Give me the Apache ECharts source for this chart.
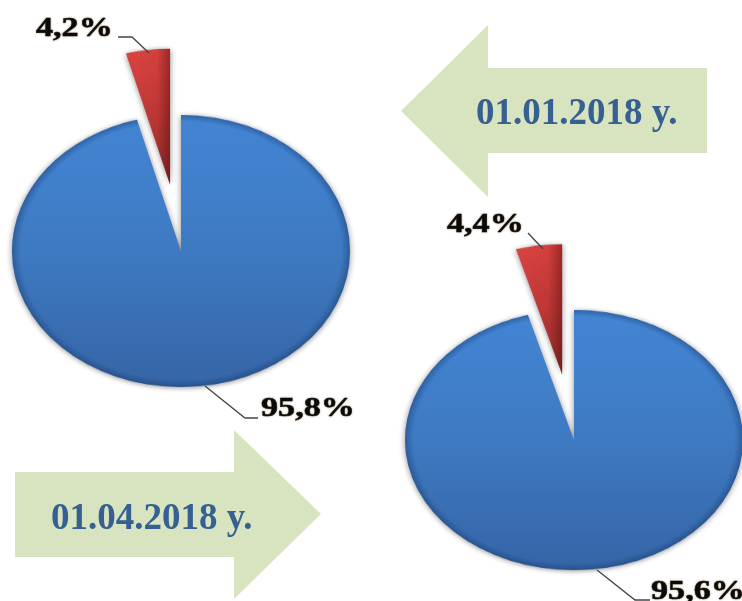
<!DOCTYPE html>
<html>
<head>
<meta charset="utf-8">
<script src="https://cdn.jsdelivr.net/npm/echarts@6/dist/echarts.min.js"></script>
<style>
  html, body { margin: 0; padding: 0; background: #fff; overflow: hidden; width: 742px; height: 601px; }
  .pie { position: absolute; width: 360px; height: 520px; transform-origin: 180px 260px; }
  #main { position: absolute; left: 0; top: 0; width: 742px; height: 601px; pointer-events: none; }
</style>
</head>
<body>
<div id="pieA" class="pie" style="left:1px;top:-9px;transform:scaleY(0.805)"></div>
<div id="pieB" class="pie" style="left:394px;top:180px;transform:scaleY(0.77)"></div>
<div id="main"></div>
<script>
var sliceNames = ['Основна частка', 'Інша частка']
var valuesJan = [95.8, 4.2]
var valuesApr = [95.6, 4.4]
var dateLabels = ['01.01.2018 y.', '01.04.2018 y.']

// відсотки з комою
function pct(v) {
  return v.toFixed(1).replace('.', ',') + '%'
}

function pieData(values) {
  return [
    { name: sliceNames[0], value: values[0], itemStyle: {
      color: { type: 'linear', x: 0, y: 0, x2: 0, y2: 1, colorStops: [
        { offset: 0, color: '#4385d4' }, { offset: 0.5, color: '#3e7ac2' }, { offset: 1, color: '#3565a6' }
      ] }
    } },
    { name: sliceNames[1], value: values[1], selected: true, itemStyle: {
      color: { type: 'linear', x: 0, y: 0, x2: 0, y2: 1, colorStops: [
        { offset: 0, color: '#dc4442' }, { offset: 0.5, color: '#c23a38' }, { offset: 1, color: '#97302d' }
      ] }
    } }
  ]
}

// другий шар: темний край еліпса
function rimData(values) {
  return [
    { name: sliceNames[0], value: values[0], itemStyle: {
      color: { type: 'radial', x: 0.5, y: 0.5, r: 0.5, colorStops: [
        { offset: 0, color: 'rgba(20,50,100,0)' }, { offset: 0.95, color: 'rgba(20,50,100,0)' },
        { offset: 1, color: 'rgba(20,50,100,0.4)' }
      ] }
    } },
    { name: sliceNames[1], value: values[1], selected: true, itemStyle: {
      color: { type: 'linear', x: 0, y: 0, x2: 1, y2: 0, colorStops: [
        { offset: 0, color: 'rgba(60,0,0,0)' }, { offset: 0.7, color: 'rgba(60,0,0,0.05)' },
        { offset: 1, color: 'rgba(60,0,0,0.4)' }
      ] }
    } }
  ]
}

function pieOption(values, offset) {
  var base = {
    type: 'pie',
    center: [180, 260],
    radius: [0, 169],
    startAngle: 90,
    selectedMode: 'single',
    selectedOffset: offset,
    label: { show: false },
    labelLine: { show: false },
    silent: true
  }
  return {
    animation: false,
    series: [
      Object.assign({}, base, {
        data: pieData(values),
        itemStyle: { shadowBlur: 6, shadowColor: 'rgba(0,0,0,0.45)', shadowOffsetY: 1 }
      }),
      Object.assign({}, base, { data: rimData(values) })
    ]
  }
}

echarts.init(document.getElementById('pieA')).setOption(pieOption(valuesJan, 83))
echarts.init(document.getElementById('pieB')).setOption(pieOption(valuesApr, 86))

function arrow(points) {
  return { type: 'polygon', shape: { points: points }, style: { fill: '#d8e4bf' } }
}
function dateText(text, x, y) {
  return { type: 'text', x: x, y: y, style: {
    text: text, fill: '#376092', font: 'bold 37px "Liberation Serif"',
    textAlign: 'left', textVerticalAlign: 'middle'
  } }
}
// підпис трохи розтягнутий по горизонталі, як на картинці
function pctText(text, x, y) {
  return { type: 'text', x: x, y: y, scaleX: 1.22, style: {
    text: text, fill: '#0a0a0a', font: 'bold 28px "Liberation Serif"',
    textAlign: 'left', textVerticalAlign: 'middle',
    stroke: '#0a0a0a', lineWidth: 0.5,
    textShadowColor: 'rgba(120,80,20,0.5)', textShadowBlur: 2
  } }
}
function leader(points) {
  return { type: 'polyline', shape: { points: points }, style: { stroke: '#444', lineWidth: 1.3, fill: null } }
}

echarts.init(document.getElementById('main')).setOption({
  animation: false,
  graphic: [
    arrow([[401, 111], [488, 25], [488, 68], [707, 68], [707, 153], [488, 153], [488, 197]]),
    arrow([[321, 514], [234, 430], [234, 472], [15, 472], [15, 557], [234, 557], [234, 599]]),
    dateText(dateLabels[0], 476, 114),
    dateText(dateLabels[1], 51, 519),
    pctText(pct(valuesJan[1]), 36, 29),
    pctText(pct(valuesJan[0]), 261, 409),
    pctText(pct(valuesApr[1]), 447, 225),
    pctText(pct(valuesApr[0]), 651, 592),
    leader([[118, 37], [132, 37], [149, 53]]),
    leader([[205, 386], [245, 418], [258, 418]]),
    leader([[528, 233], [543, 249]]),
    leader([[597, 570], [635, 600], [650, 600]])
  ]
})
</script>
</body>
</html>
